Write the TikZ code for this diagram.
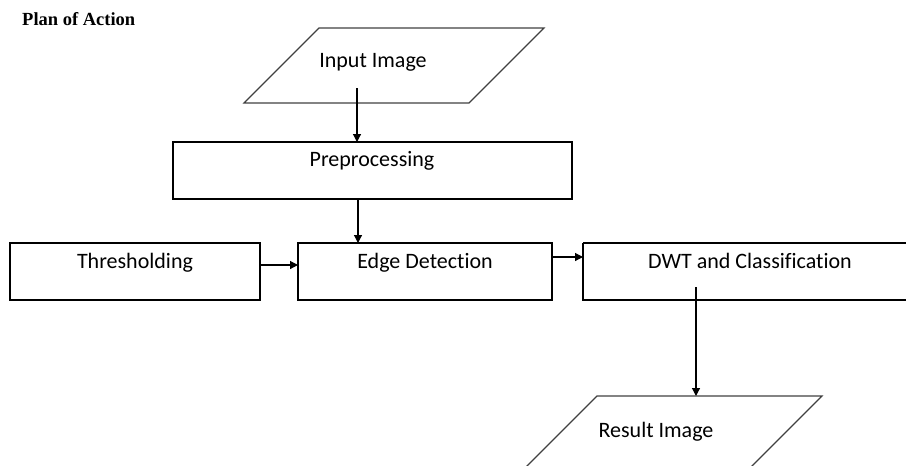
\documentclass[tikz,border=0pt]{standalone}
\usepackage{fontspec}
\setmainfont{Carlito}[Ligatures=NoCommon]
\newfontfamily\titlefont{Liberation Serif}
\usetikzlibrary{arrows.meta}
\begin{document}
\begin{tikzpicture}[x=1pt,y=-1pt,
  box/.style={draw=black,line width=1.3pt},
  para/.style={draw=black!75,line width=1.2pt},
  lbl/.style={anchor=base,font=\fontsize{22}{24}\selectfont,inner sep=0pt},
  arr/.style={draw=black,line width=1.2pt,-{Triangle[length=8pt,width=8pt]}}]
\useasboundingbox (0,0) rectangle (906,466);
\node[anchor=base west,inner sep=0pt,font=\titlefont\bfseries\fontsize{18.5}{20}\selectfont] (title) at (22,25) {Plan of Action};
% input parallelogram
\draw[para] (319,28) -- (544,28) -- (469,103) -- (244,103) -- cycle;
\node[lbl] (inp) at (373,67) {Input Image};
\coordinate (inpout) at (357,88);
% preprocessing
\draw[box] (173,142) rectangle (572,199);
\coordinate (preN) at (357,142);
\coordinate (preS) at (358,199);
\node[lbl] (pre) at (372,166) {Preprocessing};
% thresholding
\draw[box] (10,243) rectangle (260,300);
\coordinate (thrE) at (260,265);
\node[lbl] (thr) at (135,268) {Thresholding};
% edge detection
\draw[box] (298,243) rectangle (552,300);
\coordinate (edgW) at (298,265);
\coordinate (edgN) at (358,243);
\coordinate (edgE) at (552,257);
\node[lbl] (edg) at (425,268) {Edge Detection};
% DWT
\draw[box] (583,243) -- (915,243) (583,243) -- (583,300) -- (915,300);
\coordinate (dwtW) at (583,257);
\coordinate (dwtS) at (696,287);
\node[lbl] (dwt) at (750,268) {DWT and Classification};
% result parallelogram
\draw[para] (522,471) -- (597,396) -- (822,396) -- (747,471);
\coordinate (resN) at (696,396);
\node[lbl] (res) at (656,437) {Result Image};
% arrows
\draw[arr] (inpout) -- (preN);
\draw[arr] (preS) -- (edgN);
\draw[arr] (thrE) -- (edgW);
\draw[arr] (edgE) -- (dwtW);
\draw[arr] (dwtS) -- (resN);
\end{tikzpicture}
\end{document}
